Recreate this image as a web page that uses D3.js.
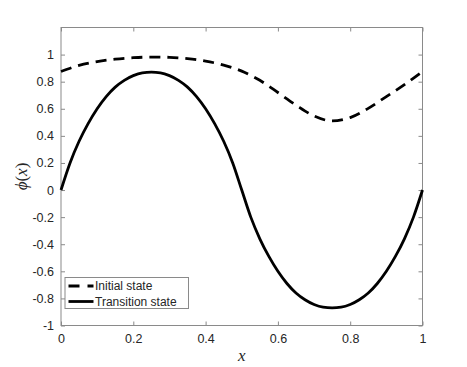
<!DOCTYPE html>
<html>
<head>
<meta charset="utf-8">
<script src="https://cdn.jsdelivr.net/npm/d3@7"></script>
<style>
  body { margin: 0; background: #fff; }
  text { font-family: "Liberation Sans", Arial, sans-serif; fill: #262626; }
</style>
</head>
<body>
<div id="chart"></div>
<script>
// values
const xInitial = [0, 0.05, 0.1, 0.15, 0.2, 0.25, 0.3, 0.35, 0.4, 0.45, 0.5,
  0.55, 0.6, 0.65, 0.7, 0.75, 0.8, 0.85, 0.9, 0.95, 1]
const initialState = [0.875, 0.92, 0.948, 0.966, 0.977, 0.982, 0.98, 0.97, 0.952, 0.922, 0.878,
  0.81, 0.72, 0.627, 0.547, 0.51, 0.535, 0.603, 0.69, 0.778, 0.875]

const xTransition = [0, 0.025, 0.05, 0.075, 0.1, 0.125, 0.15, 0.175, 0.2, 0.225, 0.25,
  0.275, 0.3, 0.325, 0.35, 0.375, 0.4, 0.425, 0.45, 0.475, 0.5,
  0.525, 0.55, 0.575, 0.6, 0.625, 0.65, 0.675, 0.7, 0.725, 0.75,
  0.775, 0.8, 0.825, 0.85, 0.875, 0.9, 0.925, 0.95, 0.975, 1]
const transitionState = [0, 0.2, 0.36, 0.49, 0.6, 0.69, 0.76, 0.81, 0.845, 0.865, 0.87,
  0.865, 0.845, 0.81, 0.76, 0.69, 0.6, 0.49, 0.36, 0.2, 0,
  -0.2, -0.36, -0.49, -0.6, -0.69, -0.76, -0.81, -0.845, -0.865, -0.87,
  -0.865, -0.845, -0.81, -0.76, -0.69, -0.6, -0.49, -0.36, -0.2, 0]

const xTicks = [0, 0.2, 0.4, 0.6, 0.8, 1]
const yTicks = [-1, -0.8, -0.6, -0.4, -0.2, 0, 0.2, 0.4, 0.6, 0.8, 1]
const seriesNames = ['Initial state', 'Transition state']

const width = 467
const height = 367
const margin = { top: 27.5, right: 44.5, bottom: 41.5, left: 61 }
const axisColour = '#8a8a8a'
const tickLen = 4

const svg = d3.select('#chart')
  .append('svg')
  .attr('width', width)
  .attr('height', height)

const x = d3.scaleLinear().domain([0, 1]).range([margin.left, width - margin.right])
const y = d3.scaleLinear().domain([-1, 1.2]).range([height - margin.bottom, margin.top])

const fmt = d => d === 0 ? '0' : d3.format('.1f')(d).replace('−', '-').replace(/^1\.0$/, '1').replace(/^-1\.0$/, '-1')

// box
svg.append('rect')
  .attr('x', x(0))
  .attr('y', y(1.2))
  .attr('width', x(1) - x(0))
  .attr('height', y(-1) - y(1.2))
  .attr('fill', 'none')
  .attr('stroke', axisColour)
  .attr('stroke-width', 1)

// bottom / top axes, ticks inside
const xBottom = svg.append('g')
  .attr('transform', `translate(0,${y(-1)})`)
  .call(d3.axisBottom(x).tickValues(xTicks).tickSizeInner(-tickLen).tickSizeOuter(0).tickPadding(9).tickFormat(fmt))
const xTop = svg.append('g')
  .attr('transform', `translate(0,${y(1.2)})`)
  .call(d3.axisTop(x).tickValues(xTicks).tickSizeInner(-tickLen).tickSizeOuter(0).tickFormat(''))
const yLeft = svg.append('g')
  .attr('transform', `translate(${x(0)},0)`)
  .call(d3.axisLeft(y).tickValues(yTicks).tickSizeInner(-tickLen).tickSizeOuter(0).tickPadding(7).tickFormat(fmt))
const yRight = svg.append('g')
  .attr('transform', `translate(${x(1)},0)`)
  .call(d3.axisRight(y).tickValues(yTicks).tickSizeInner(-tickLen).tickSizeOuter(0).tickFormat(''))

;[xBottom, xTop, yLeft, yRight].forEach(g => {
  g.select('.domain').remove()
  g.selectAll('line').attr('stroke', axisColour)
  g.selectAll('text')
    .style('font-family', '"Liberation Sans", Arial, sans-serif')
    .style('font-size', '12.5px')
    .attr('fill', '#262626')
})

// curves
const lineInitial = d3.line()
  .x((d, i) => x(xInitial[i]))
  .y(d => y(d))
  .curve(d3.curveMonotoneX)

const lineTransition = d3.line()
  .x((d, i) => x(xTransition[i]))
  .y(d => y(d))
  .curve(d3.curveMonotoneX)

svg.append('path')
  .attr('d', lineInitial(initialState))
  .attr('fill', 'none')
  .attr('stroke', '#000')
  .attr('stroke-width', 2.8)
  .attr('stroke-dasharray', '11,7')

svg.append('path')
  .attr('d', lineTransition(transitionState))
  .attr('fill', 'none')
  .attr('stroke', '#000')
  .attr('stroke-width', 2.8)

// axis labels
svg.append('text')
  .attr('x', (x(0) + x(1)) / 2)
  .attr('y', 361)
  .attr('text-anchor', 'middle')
  .style('font-family', '"Liberation Serif", "DejaVu Serif", serif')
  .style('font-style', 'italic')
  .style('font-size', '17px')
  .attr('fill', '#000')
  .text('x')

svg.append('text')
  .attr('transform', `translate(27,${(y(-1) + y(1.2)) / 2}) rotate(-90)`)
  .attr('text-anchor', 'middle')
  .style('font-family', '"Liberation Serif", "DejaVu Serif", serif')
  .style('font-size', '17px')
  .attr('fill', '#000')
  .call(t => {
    t.append('tspan').style('font-style', 'italic').text('ϕ')
    t.append('tspan').text('(')
    t.append('tspan').style('font-style', 'italic').text('x')
    t.append('tspan').text(')')
  })

// legend
const legend = svg.append('g').attr('transform', 'translate(65,277.5)')
legend.append('rect')
  .attr('width', 123.5)
  .attr('height', 31)
  .attr('fill', '#fff')
  .attr('stroke', axisColour)
  .attr('stroke-width', 1)

seriesNames.forEach((name, i) => {
  const cy = 8.5 + i * 15.5
  legend.append('line')
    .attr('x1', 3.5)
    .attr('x2', 28.5)
    .attr('y1', cy)
    .attr('y2', cy)
    .attr('stroke', '#000')
    .attr('stroke-width', 2.8)
    .attr('stroke-dasharray', i === 0 ? '11,8' : null)
  legend.append('text')
    .attr('x', 30)
    .attr('y', cy)
    .attr('dy', '0.35em')
    .style('font-size', '12px')
    .text(name)
})
</script>
</body>
</html>
